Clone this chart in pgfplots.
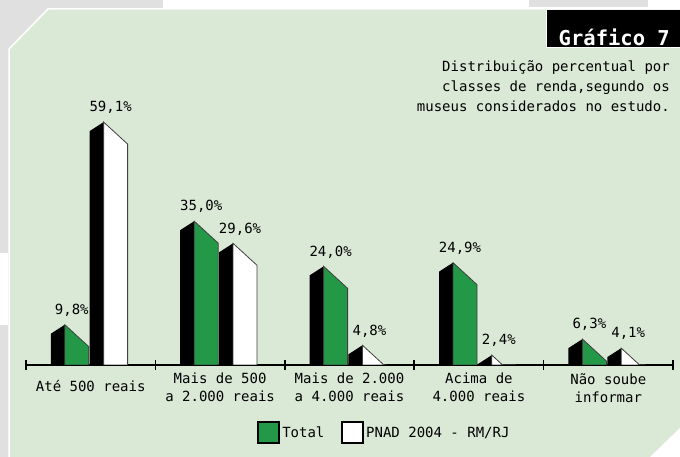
\documentclass[border=0pt]{standalone}
\usepackage{pgfplots}
\pgfplotsset{compat=1.18}
\usepackage{fontspec}
\setmainfont{DejaVu Sans Mono}

\definecolor{panel}{RGB}{218,232,214}
\definecolor{edge}{RGB}{224,224,224}
\definecolor{barverde}{RGB}{35,153,72}

% vertical scale of the axis, pt per percentage point
\newcommand\yunit{4.11}

% face colour of the prism-shaped bars
\tikzset{prism face/.store in=\prismface, prism face=white}
\pgfdeclareplotmark{prism}{}

% one prism bar: the data point is its ridge, the bar reaches down to y=0
\newcommand\prismbar{%
  \pgfmathsetmacro\H{\rawy*\yunit}%
  \begin{pgfscope}
    \pgfpathrectanglecorners{\pgfpoint{-14pt}{0.5pt}}{\pgfpoint{25pt}{-\H pt}}%
    \pgfusepath{clip}%
    \path[fill=black, draw=none] (-14pt,-9pt) -- (0pt,0pt) -- (0pt,-\H pt) -- (-14pt,-\H pt) -- cycle;
    \path[fill=\prismface, draw=black!75, line width=0.8pt]
      (0pt,0pt) -- (24pt,-22pt) -- (24pt,-\H pt) -- (0pt,-\H pt) -- cycle;
  \end{pgfscope}}

\pgfplotsset{
  prism bars/.style={
    scatter, only marks, mark=prism,
    visualization depends on={rawy \as \rawy},
    scatter/@pre marker code/.code={\prismbar},
    scatter/@post marker code/.code={},
    prism face=#1,
    legend image code/.code={\filldraw[fill=#1, draw=black, line width=1.8pt]
      (0pt,-10.5pt) rectangle (21pt,10.5pt);}},
  value labels/.style={
    only marks, mark=none, draw=none, forget plot,
    nodes near coords={\pgfmathprintnumber[fixed,fixed zerofill,precision=1,use comma]{\pgfplotspointmeta}\%},
    nodes near coords style={anchor=south, inner sep=0pt, yshift=8pt, xshift=7pt,
                             font=\txt, text=black}},
}

\newcommand\txt{\fontsize{14}{18}\selectfont}

\begin{document}
\begin{tikzpicture}[x=1pt,y=1pt]
\useasboundingbox (0,0) rectangle (680,457);
% page frame around the panel
\fill[edge] (0,0) rectangle (680,457);
\fill[white] (163,448) rectangle (680,457);
\fill[edge] (529,450) rectangle (648,457);
\fill[white] (0,132) rectangle (8,204);
\fill[panel, draw=white, line width=1.5pt]
  (9,-2) -- (9,408) -- (48,448) -- (682,448) -- (682,-2) -- cycle;
\fill[white] (650,0) -- (680,29) -- (680,0) -- cycle;

% title block
\fill[black] (546,409) rectangle (680,447);
\draw[white, line width=1pt] (546,447) -- (546,409) -- (680,409);
\node[anchor=base east, inner sep=0, text=white,
      font=\bfseries\fontsize{20.5}{24}\selectfont] at (670,411) {Gráfico 7};
\node[anchor=base east, inner sep=0, font=\txt] at (670,385) {Distribuição percentual por};
\node[anchor=base east, inner sep=0, font=\txt] at (670,365) {classes de renda,segundo os};
\node[anchor=base east, inner sep=0, font=\txt] at (670,345) {museus considerados no estudo.};

\begin{axis}[
  at={(26pt,92pt)}, anchor=south west,
  x=129.4pt, y=\yunit pt,
  xmin=-0.5, xmax=4.5, ymin=0, ymax=70,
  axis x line*=bottom, axis y line=none,
  axis line style={line width=1.5pt, black},
  xtick={0,...,4},
  xticklabels={{\mbox{}\\Até 500 reais},
               {Mais de 500\\a 2.000 reais},
               {Mais de 2.000\\a 4.000 reais},
               {Acima de\\4.000 reais},
               {Não soube\\informar}},
  xticklabel style={align=center, anchor=north, inner sep=0pt, yshift=-8pt, font=\txt},
  minor xtick={-0.5,0.5,...,4.5},
  major tick length=0pt, minor tick length=10pt,
  tick align=center,
  every minor tick/.style={line width=1.5pt, black},
  clip=false,
  /pgf/number format/assume math mode=true,
  legend columns=2,
  legend style={at={(0.352,-0.236)}, anchor=west, draw=none, fill=none,
                font=\txt, nodes={inner sep=2.5pt},
                /tikz/every even column/.append style={column sep=14pt}},
]
% Total
\addplot[prism bars=barverde]
  coordinates {(-0.2,9.8) (0.8,35.0) (1.8,24.0) (2.8,24.9) (3.8,6.3)};
\addlegendentry{Total}
% PNAD 2004 - RM/RJ
\addplot[prism bars=white]
  coordinates {(0.1,59.1) (1.1,29.6) (2.1,4.8) (3.1,2.4) (4.1,4.1)};
\addlegendentry{PNAD 2004 - RM/RJ}
% value labels above the ridges
\addplot[value labels]
  coordinates {(-0.2,9.8) (0.8,35.0) (1.8,24.0) (2.8,24.9) (3.8,6.3)};
\addplot[value labels]
  coordinates {(0.1,59.1) (1.1,29.6) (2.1,4.8) (3.1,2.4) (4.1,4.1)};
\end{axis}
\end{tikzpicture}
\end{document}
